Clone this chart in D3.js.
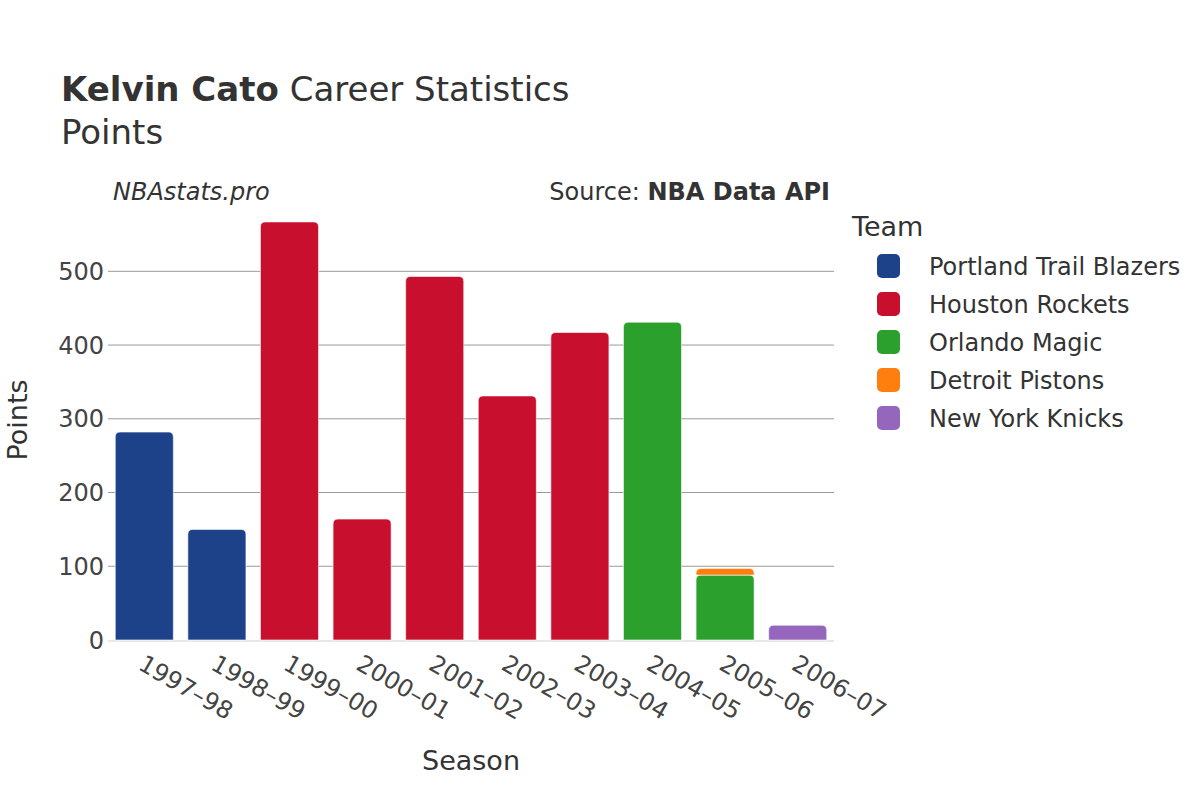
<!DOCTYPE html>
<html><head><meta charset="utf-8">
<script src="https://cdn.jsdelivr.net/npm/d3@7"></script>
<style>body{margin:0;background:#fff;} svg{display:block;} text{font-family:"DejaVu Sans",sans-serif;fill:#333;}</style>
</head><body><svg id="c" width="1200" height="800"></svg>
<script>
const seasons = ["1997–98","1998–99","1999–00","2000–01","2001–02","2002–03","2003–04","2004–05","2005–06","2006–07"];
const teams = ["Portland Trail Blazers","Houston Rockets","Orlando Magic","Detroit Pistons","New York Knicks"];
const teamColors = ["#1d428a","#c8102e","#2ca02c","#ff7f0e","#9467bd"];
// points per season per team (stack order follows teams)
const portland = [282,150,0,0,0,0,0,0,0,0];
const houston  = [0,0,567,164,493,331,417,0,0,0];
const orlando  = [0,0,0,0,0,0,0,431,88,0];
const detroit  = [0,0,0,0,0,0,0,0,9,0];
const knicks   = [0,0,0,0,0,0,0,0,0,20];
const yTicks = [0,100,200,300,400,500];

const series = [portland,houston,orlando,detroit,knicks];
const svg = d3.select("#c");
const L=108,R=834,T=202,B=640;
const x = d3.scaleBand().domain(seasons).range([L,R]).paddingInner(0.2).paddingOuter(0.1);
const y = d3.scaleLinear().domain([0,594]).range([B,T]);

// gridlines
svg.append("g").selectAll("line").data(yTicks.filter(d=>d>0)).join("line")
  .attr("x1",L).attr("x2",R).attr("y1",d=>y(d)).attr("y2",d=>y(d))
  .attr("stroke","#9a9a9a").attr("stroke-width",1);
svg.append("line").attr("x1",L).attr("x2",R).attr("y1",y(0)+1).attr("y2",y(0)+1)
  .attr("stroke","#e8e8e8").attr("stroke-width",2);

// bars
function topRounded(x0,y0,w,h,r){
  r=Math.min(r,h,w/2);
  return `M${x0},${y0+h}V${y0+r}Q${x0},${y0} ${x0+r},${y0}H${x0+w-r}Q${x0+w},${y0} ${x0+w},${y0+r}V${y0+h}Z`;
}
const bars=[];
seasons.forEach((s,i)=>{
  let base=0;
  series.forEach((arr,k)=>{
    const v=arr[i]; if(!v) return;
    bars.push({s,k,y0:base,y1:base+v}); base+=v;
  });
});
svg.append("g").selectAll("path").data(bars).join("path")
  .attr("d",d=>topRounded(x(d.s),y(d.y1),x.bandwidth(),y(d.y0)-y(d.y1),5))
  .attr("fill",d=>teamColors[d.k]).attr("stroke","#fff").attr("stroke-width",0.6);

// y ticks
svg.append("g").selectAll("text").data(yTicks).join("text")
  .attr("x",L-4).attr("y",d=>y(d)).attr("dy","0.36em").attr("text-anchor","end")
  .style("font-size","24px").style("fill","#444").text(d=>d);
// x ticks
svg.append("g").selectAll("text").data(seasons).join("text")
  .attr("transform",d=>`translate(${x(d)+x.bandwidth()/2+1},${654}) rotate(30)`)
  .attr("dy","0.7em").attr("text-anchor","start")
  .style("font-size","24px").style("fill","#444").text(d=>d);

// titles
const t=svg.append("text").attr("x",61).attr("y",101).style("font-size","34px");
t.append("tspan").style("font-weight","bold").text("Kelvin Cato");
t.append("tspan").text(" Career Statistics");
svg.append("text").attr("x",61).attr("y",144).style("font-size","34px").text("Points");
svg.append("text").attr("x",113).attr("y",200).style("font-size","24px").style("font-style","italic").text("NBAstats.pro");
const src=svg.append("text").attr("x",830).attr("y",200).attr("text-anchor","end").style("font-size","24px");
src.append("tspan").text("Source: ");
src.append("tspan").style("font-weight","bold").text("NBA Data API");
svg.append("text").attr("x",471).attr("y",770).attr("text-anchor","middle").style("font-size","27px").text("Season");
svg.append("text").attr("transform","translate(27,420) rotate(-90)").attr("text-anchor","middle").style("font-size","27px").text("Points");

// legend
svg.append("text").attr("x",852).attr("y",236).style("font-size","27px").text("Team");
const lg=svg.append("g").selectAll("g").data(teams).join("g")
  .attr("transform",(d,i)=>`translate(0,${266+i*38})`);
lg.append("rect").attr("x",877).attr("y",-12).attr("width",23).attr("height",24).attr("rx",5)
  .attr("fill",(d,i)=>teamColors[i]);
lg.append("text").attr("x",929).attr("dy","0.36em").style("font-size","24px").text(d=>d);
</script></body></html>
